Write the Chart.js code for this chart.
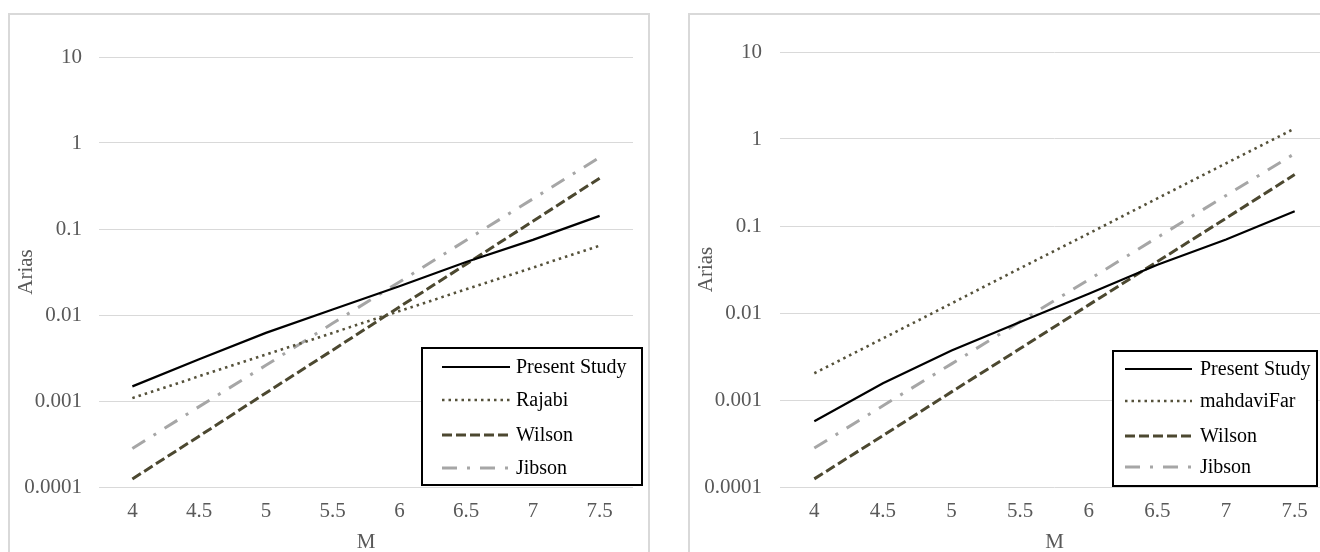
<!DOCTYPE html>
<html>
<head>
<meta charset="utf-8">
<script src="https://cdn.jsdelivr.net/npm/chart.js@4/dist/chart.umd.min.js"></script>
<style>
  html, body { margin: 0; padding: 0; background: #fff; }
  body { width: 1320px; height: 552px; overflow: hidden; position: relative; }
  .panel { position: absolute; top: 13px; border: 2px solid #d9d9d9; background: #fff; }
  #leftPanel { left: 8px; width: 638px; height: 560px; }
  #rightPanel { left: 688px; width: 655px; height: 560px; }
  canvas { position: absolute; left: 0; top: 0; }
</style>
</head>
<body>
<div class="panel" id="leftPanel"><canvas id="leftChart" width="638" height="545"></canvas></div>
<div class="panel" id="rightPanel"><canvas id="rightChart" width="655" height="545"></canvas></div>
<script>
// magnitudes on the x axis
const mLabels = ['4', '4.5', '5', '5.5', '6', '6.5', '7', '7.5'];
// y tick labels (log axis)
const yTickValues = [0.0001, 0.001, 0.01, 0.1, 1, 10];
const yTickLabels = ['0.0001', '0.001', '0.01', '0.1', '1', '10'];

// left chart
const presentLeft = [0.00148, 0.00305, 0.0062, 0.0116, 0.0216, 0.0414, 0.0748, 0.142];
const rajabi = [0.00108, 0.00194, 0.00347, 0.0062, 0.0111, 0.0199, 0.0356, 0.064];
// right chart
const presentRight = [0.00057, 0.00156, 0.0037, 0.0079, 0.0166, 0.0359, 0.070, 0.148];
const mahdaviFar = [0.00203, 0.0051, 0.0129, 0.0327, 0.082, 0.208, 0.525, 1.32];
// shared
const wilson = [0.000124, 0.00039, 0.00124, 0.0039, 0.0124, 0.039, 0.123, 0.39];
const jibson = [0.00028, 0.00086, 0.0026, 0.008, 0.0242, 0.074, 0.224, 0.68];

const FONT = "'Liberation Serif', 'Times New Roman', serif";
const TICK_COLOR = '#595959';

// boxed legend drawn inside the plot, like the original
const boxLegend = {
  id: 'boxLegend',
  afterDraw(chart, args, opts) {
    const ctx = chart.ctx;
    ctx.save();
    ctx.fillStyle = '#fff';
    ctx.fillRect(opts.x, opts.y, opts.w, opts.h);
    ctx.lineWidth = 2;
    ctx.strokeStyle = '#000';
    ctx.strokeRect(opts.x, opts.y, opts.w, opts.h);
    chart.data.datasets.forEach((ds, i) => {
      const y = opts.rows[i];
      ctx.beginPath();
      ctx.setLineDash(ds.borderDash || []);
      ctx.lineWidth = ds.borderWidth;
      ctx.strokeStyle = ds.borderColor;
      ctx.moveTo(opts.sampleX, y);
      ctx.lineTo(opts.sampleX + opts.sampleW, y);
      ctx.stroke();
      ctx.setLineDash([]);
      ctx.fillStyle = '#000';
      ctx.font = '20px ' + FONT;
      ctx.textBaseline = 'middle';
      ctx.textAlign = 'left';
      ctx.fillText(ds.label, opts.textX, y + 1);
    });
    ctx.restore();
  }
};

function makeDatasets(present, second, secondName) {
  return [
    { label: 'Present Study', data: present, borderColor: '#000000', borderWidth: 2.2, borderDash: [] },
    { label: secondName, data: second, borderColor: '#55513a', borderWidth: 2.6, borderDash: [2.5, 4] },
    { label: 'Wilson', data: wilson, borderColor: '#4c4830', borderWidth: 3, borderDash: [10, 4] },
    { label: 'Jibson', data: jibson, borderColor: '#a6a6a6', borderWidth: 3, borderDash: [15, 10, 3, 10] }
  ];
}

function buildChart(id, datasets, lay) {
  const ctx = document.getElementById(id).getContext('2d');
  ctx.letterSpacing = '0.6px';
  return new Chart(ctx, {
    type: 'line',
    data: { labels: mLabels, datasets },
    options: {
      responsive: false,
      animation: false,
      devicePixelRatio: 1,
      elements: { point: { radius: 0 }, line: { tension: 0, borderCapStyle: 'butt' } },
      layout: { padding: { left: 0, top: lay.top, right: lay.right, bottom: 0 } },
      plugins: {
        legend: { display: false },
        tooltip: { enabled: false },
        boxLegend: lay.legend
      },
      scales: {
        x: {
          type: 'category',
          offset: true,
          grid: { display: false, drawTicks: false },
          border: { display: false },
          ticks: { color: TICK_COLOR, font: { family: FONT, size: 21 }, padding: 12, maxRotation: 0 },
          title: { display: true, text: 'M', color: TICK_COLOR, font: { family: FONT, size: 21 }, padding: { top: 0, bottom: 5 } },
          afterFit: s => { s.height = lay.xHeight; }
        },
        y: {
          type: 'logarithmic',
          min: 0.0001,
          max: 10,
          grid: { color: '#d9d9d9', lineWidth: 1, drawTicks: false },
          border: { display: false },
          afterBuildTicks: s => { s.ticks = yTickValues.map(v => ({ value: v, major: true })); },
          ticks: {
            color: TICK_COLOR,
            font: { family: FONT, size: 21 },
            padding: lay.yPad,
            callback: (v) => yTickLabels[yTickValues.indexOf(v)]
          },
          title: { display: true, text: 'Arias', color: TICK_COLOR, font: { family: FONT, size: 21 }, padding: { top: 4, bottom: 0 } },
          afterFit: s => { s.width = lay.yWidth; }
        }
      }
    },
    plugins: [boxLegend]
  });
}

buildChart('leftChart', makeDatasets(presentLeft, rajabi, 'Rajabi'), {
  top: 42, right: 15, xHeight: 73, yWidth: 89, yPad: 17,
  legend: { x: 412, y: 333, w: 220, h: 137, sampleX: 432, sampleW: 68, textX: 506, rows: [352, 385, 420, 453] }
});

buildChart('rightChart', makeDatasets(presentRight, mahdaviFar, 'mahdaviFar'), {
  top: 37, right: 16, xHeight: 73, yWidth: 90, yPad: 18,
  legend: { x: 423, y: 336, w: 204, h: 135, sampleX: 435, sampleW: 67, textX: 510, rows: [354, 386, 421, 452] }
});
</script>
</body>
</html>
